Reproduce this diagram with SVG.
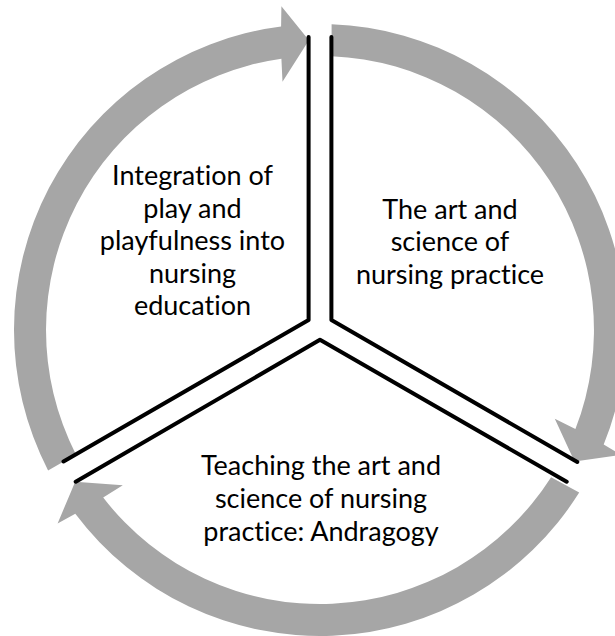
<svg xmlns="http://www.w3.org/2000/svg" width="615" height="636" viewBox="0 0 615 636">
<style>
.arrow{fill:#A6A6A6;stroke:none}
.edge{fill:none;stroke:#000;stroke-width:4;stroke-linejoin:round;stroke-linecap:round}
.label{font-family:Lato,"Open Sans","Liberation Sans",sans-serif;font-size:27px;fill:#000;text-anchor:middle;font-variant-ligatures:none}
</style>
<rect width="615" height="636" fill="#fff"/>
<g id="connectors">
<path class="arrow" d="M48.1,470.4 A306,306 0 0 1 281.1,26.5 L281.4,6.3 L308.9,40.2 L282.5,81.8 L281.4,58.7 A274,274 0 0 0 75.9,454.4 Z"/>
<path class="arrow" d="M331.6,24.2 A306,306 0 0 1 603.7,444.6 L621.2,454.8 L574.5,461.4 L554.8,418.7 L575.4,429.1 A274,274 0 0 0 331.6,56.2 Z"/>
<path class="arrow" d="M579.2,492.6 A306,306 0 0 1 75.3,513.7 L57.6,523.4 L75.2,481.8 L122.8,485.2 L103.2,497.6 A274,274 0 0 0 551.1,477.2 Z"/>
</g>
<g id="node-play">
<polyline class="edge" points="308.6,37 308.6,320 63.5,461.5"/>
<text class="label"><tspan x="192.5" y="185">Integration of</tspan><tspan x="192.5" y="217.5">play and</tspan><tspan x="192.5" y="250">playfulness into</tspan><tspan x="192.5" y="282.5">nursing</tspan><tspan x="192.5" y="315">education</tspan></text>
</g>
<g id="node-art-science">
<polyline class="edge" points="331.4,37 331.4,320 577.3,462"/>
<text class="label"><tspan x="450" y="218.5">The art and</tspan><tspan x="450" y="251">science of</tspan><tspan x="450" y="283.5">nursing practice</tspan></text>
</g>
<g id="node-teaching">
<polyline class="edge" points="75.7,481.7 320,339.8 566.7,481.7"/>
<text class="label"><tspan x="321" y="475">Teaching the art and</tspan><tspan x="321" y="508">science of nursing</tspan><tspan x="321" y="541">practice: Andragogy</tspan></text>
</g>
</svg>
